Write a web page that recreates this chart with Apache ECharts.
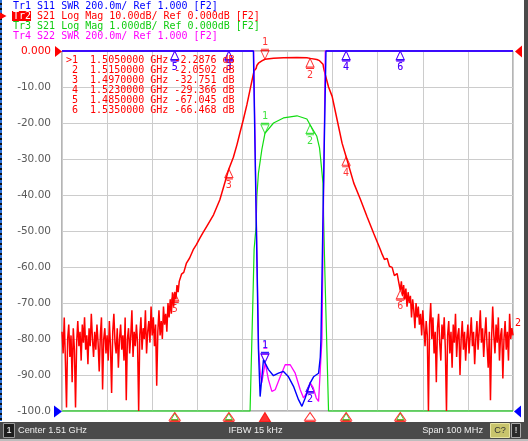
<!DOCTYPE html>
<html><head><meta charset="utf-8">
<script src="https://cdn.jsdelivr.net/npm/echarts@6/dist/echarts.min.js"></script>
<style>html,body{margin:0;padding:0;background:#fff;overflow:hidden}#c{width:528px;height:441px}</style>
</head><body><div id="c"></div>
<script>
// ---- stimulus (MHz): center 1.51 GHz, span 100 MHz ----
const FREQ_MIN = 1460, FREQ_MAX = 1560, FREQ_DIV = 10;

// ---- S21 (dB) ----
const NOISE_STEP = 0.25;
const s21NoiseLeftStart = 1460;
const s21NoiseLeft = [
 -78,-84,-74,-86,-99,-80,-76,-85,-79,-92,
 -77,-83,-99,-81,-75,-82,-78,-86,-76,-81,
 -74,-83,-79,-87,-77,-82,-73,-80,-85,-78,
 -83,-76,-81,-89,-79,-74,-94,-80,-77,-84,
 -79,-86,-75,-82,-95,-78,-73,-81,-84,-77,
 -88,-80,-76,-83,-79,-86,-74,-97,-80,-77,
 -84,-79,-72,-85,-78,-82,-76,-81,-100,-79,
 -74,-83,-77,-80,-72,-84,-78,-75,-81,-71,
 -79,-74,-82,-76,-93,-78,-72,-79,-75,-80,
 -71,-76,-73,-78,-70,-74,-69,-73,-67,-71,
 -67,-69,-65,-67,-64
];
const s21Skirts = [
 [1486.5,-62.0],[1487.0,-61.5],[1487.6,-58.9],[1488.3,-57.5],[1489.1,-55.2],[1489.8,-53.8],
 [1490.6,-51.9],[1491.3,-50.4],[1492.1,-48.7],[1493.6,-45.5],[1495.0,-41.3],[1496.2,-36.2],
 [1497.0,-32.75],[1498.0,-29.5],[1498.8,-26.0],[1499.5,-22.5],[1500.2,-19.1],[1501.0,-14.9],
 [1501.7,-10.75],[1502.44,-6.35],[1502.6,-5.5],[1503.04,-4.87],[1503.2,-4.04],[1503.56,-3.39],
 [1504.31,-2.74],[1505.0,-2.29],[1506.9,-2.0],[1509.1,-1.86],[1512.1,-1.80],[1514.3,-1.89],
 [1515.0,-2.05],[1516.5,-2.37],[1517.1,-2.69],[1517.3,-2.93],[1517.87,-3.67],[1518.0,-4.6],
 [1518.16,-5.5],[1518.38,-6.6],[1519.1,-10.0],[1519.9,-12.6],[1521.0,-19.1],[1522.1,-25.6],
 [1523.0,-29.37],[1524.7,-36.7],[1526.2,-41.3],[1527.6,-45.9],[1529.1,-50.6],[1530.6,-55.2],
 [1531.0,-56.5],[1531.5,-57.9],[1532.1,-57.6],[1532.6,-59.8],[1533.2,-60.1],[1533.7,-62.4],
 [1534.3,-61.8],[1534.7,-64.5]
];
const s21NoiseRightStart = 1535;
const s21NoiseRight = [
 -66.5,-64,-68,-65,-69,-66,-71,-67,-70,-68,
 -74,-69,-72,-77,-70,-74,-71,-76,-73,-79,
 -72,-77,-82,-75,-79,-100,-76,-70,-80,-74,
 -84,-78,-92,-77,-73,-81,-86,-76,-80,-74,
 -83,-100,-79,-75,-84,-78,-88,-76,-81,-73,
 -85,-79,-77,-90,-80,-75,-83,-78,-86,-80,
 -76,-84,-79,-74,-82,-78,-87,-80,-75,-83,
 -78,-72,-81,-77,-85,-79,-74,-82,-88,-78,
 -97,-80,-71,-79,-84,-76,-81,-74,-86,-79,
 -77,-91,-80,-75,-83,-78,-86,-73,-80,-77,
 -79
];

// ---- S11 / S22 SWR (values above 3 shown at the top edge) ----
const s11Swr = [
 [1460,3],[1502.44,3],[1502.97,2.2],[1503.56,1.34],[1503.93,1.08],[1504.67,1.285],
 [1505.78,1.23],[1506.89,1.196],[1508.0,1.21],[1509.11,1.22],[1510.22,1.19],[1511.33,1.137],
 [1512.44,1.063],[1513.2,1.026],[1513.93,1.072],[1515.04,1.156],[1515.78,1.19],[1516.89,1.21],
 [1517.27,1.30],[1517.42,1.40],[1517.93,2.17],[1518.53,3],[1560,3]
];
const s22Swr = [
 [1460,3],[1502.49,3],[1503.0,2.2],[1503.6,1.34],[1504.0,1.2],[1504.3,1.157],[1505.05,1.267],
 [1505.78,1.174],[1506.53,1.109],[1507.27,1.118],[1508.38,1.19],[1509.49,1.257],[1510.6,1.257],
 [1511.71,1.21],[1512.82,1.118],[1513.56,1.072],[1514.44,1.109],[1515.04,1.156],[1515.7,1.13],
 [1516.38,1.072],[1516.89,1.053],[1517.27,1.23],[1517.64,1.40],[1518.0,2.2],[1518.38,3],[1560,3]
];

// ---- markers ----
const markerFreqMHz = [1505, 1515, 1497, 1523, 1485, 1535];
const markerS21dB  = [-2.2876, -2.0502, -32.751, -29.366, -67.045, -66.468];
const markerS11Swr = [1.27, 1.156, 3, 3, 3, 3];
const markerS22Swr = [1.267, 1.156, 3, 3, 3, 3];

// ---- tick labels / annotation text ----
const yTickLabels = ['0.000','-10.00','-20.00','-30.00','-40.00','-50.00','-60.00','-70.00','-80.00','-90.00','-100.0'];
const headerLines = [
 ['Tr1', ' S11 SWR 200.0m/ Ref 1.000 [F2]', '#0000ff'],
 ['Tr2', ' S21 Log Mag 10.00dB/ Ref 0.000dB [F2]', '#ff0000'],
 ['Tr3', ' S21 Log Mag 1.000dB/ Ref 0.000dB [F2]', '#11cc11'],
 ['Tr4', ' S22 SWR 200.0m/ Ref 1.000 [F2]', '#ff00ff']
];
const statusTexts = ['Center 1.51 GHz', 'IFBW 15 kHz', 'Span 100 MHz'];

const RED='#ff0000', BLUE='#0000ff', GREEN='#11dd11', MAG='#ff00ff';
const MONO='"DejaVu Sans Mono", monospace';
const clamp=(v,a,b)=>Math.max(a,Math.min(b,v));

const s21 = []
  .concat(s21NoiseLeft.map((v,i)=>[s21NoiseLeftStart+i*NOISE_STEP, v]))
  .concat(s21Skirts)
  .concat(s21NoiseRight.map((v,i)=>[s21NoiseRightStart+i*NOISE_STEP, v]));

const TRI_UP='path://M5,0L0,9L10,9ZM0,10.5L10,10.5';
const TRI_DOWN='path://M0,0L10,0M0,1.5L10,1.5L5,10.5Z';
const TRI_FILL='path://M5,0L0,9L10,9Z';

function markerSeries(vals, yIdx, lo, hi, color){
  return {
    type:'scatter', yAxisIndex:yIdx, clip:false, silent:true,
    symbolSize:[8,10],
    itemStyle:{color:'rgba(0,0,0,0)', borderColor:color, borderWidth:1},
    data: markerFreqMHz.map((f,i)=>{
      const v=clamp(vals[i],lo,hi);
      const down=(i===0);
      const atBottom=(vals[i]<lo);
      return {
        value:[f,v],
        symbol: down?TRI_DOWN:TRI_UP,
        symbolSize: atBottom?[7,7]:[8,10],
        symbolOffset: down?[0,'-50%']:(atBottom?[0,6]:[0,'50%']),
        label:{show:!atBottom, position: down?'top':'bottom', distance:1,
          formatter:String(i+1), color:color, fontFamily:MONO, fontSize:10}
      };
    })
  };
}

const graphic=[];
// left frame dashes, right frame bar
graphic.push({type:'line',shape:{x1:1,y1:0,x2:1,y2:421},style:{stroke:'#111',lineWidth:2}});
graphic.push({type:'line',shape:{x1:1,y1:0,x2:1,y2:421},style:{stroke:'#2a6fd6',lineWidth:2,lineDash:[3,2]}});
graphic.push({type:'rect',shape:{x:524,y:0,width:4,height:441},style:{fill:'#4a4a4a'}});
// header
headerLines.forEach((h,i)=>{
  const y=6+i*10;
  if(i===1){
    graphic.push({type:'rect',z:50,shape:{x:12,y:y-5,width:19,height:10},style:{fill:RED}});
    graphic.push({type:'polygon',z:50,shape:{points:[[0,y-3.5],[6.5,y],[0,y+3.5]]},style:{fill:RED}});
  }
  graphic.push({type:'text',z:51,x:13,y:y,style:{text:h[0],fill:(i===1?'#fff':h[2]),font:'10px '+MONO,textVerticalAlign:'middle'}});
  graphic.push({type:'text',z:51,x:13+18.06,y:y,style:{text:h[1],fill:h[2],font:'10px '+MONO,textVerticalAlign:'middle'}});
});
// marker table
markerFreqMHz.forEach((f,i)=>{
  const t=(i===0?'>':' ')+(i+1)+'  '+(f/1000).toFixed(7)+' GHz '+markerS21dB[i].toPrecision(5)+' dB';
  graphic.push({type:'text',z:51,x:66,y:60+i*10,style:{text:t,fill:RED,font:'10px '+MONO,textVerticalAlign:'middle'}});
});
// reference position arrows
graphic.push({type:'polygon',z:60,shape:{points:[[55,46],[62,51.5],[55,57]]},style:{fill:RED}});
graphic.push({type:'polygon',z:60,shape:{points:[[54,405.5],[62,411.5],[54,417.5]]},style:{fill:BLUE}});
graphic.push({type:'polygon',z:60,shape:{points:[[522,45.5],[515,51.5],[522,57.5]]},style:{fill:RED}});
graphic.push({type:'polygon',z:60,shape:{points:[[521,405.5],[514,411.5],[521,417.5]]},style:{fill:BLUE}});
graphic.push({type:'text',z:60,x:515,y:323,style:{text:'2',fill:RED,font:'10px '+MONO,textVerticalAlign:'middle'}});
// status bar
const SB='9.2px "Liberation Sans", Arial, sans-serif';
graphic.push({type:'rect',z:40,shape:{x:0,y:422,width:524,height:17},style:{fill:'#4a4a4a'}});
graphic.push({type:'rect',z:40,shape:{x:0,y:439,width:528,height:2},style:{fill:'#bdbdbd'}});
graphic.push({type:'rect',z:41,shape:{x:3.5,y:423.5,width:11,height:14},style:{fill:'#1e1e1e',stroke:'#9a9a9a',lineWidth:1}});
graphic.push({type:'text',z:42,x:9,y:430.5,style:{text:'1',fill:'#fff',font:SB,textAlign:'center',textVerticalAlign:'middle'}});
graphic.push({type:'text',z:42,x:18,y:430.5,style:{text:statusTexts[0],fill:'#eeeeee',font:SB,textVerticalAlign:'middle'}});
graphic.push({type:'text',z:42,x:255.5,y:430.5,style:{text:statusTexts[1],fill:'#eeeeee',font:SB,textAlign:'center',textVerticalAlign:'middle'}});
graphic.push({type:'text',z:42,x:483,y:430.5,style:{text:statusTexts[2],fill:'#eeeeee',font:SB,textAlign:'right',textVerticalAlign:'middle'}});
graphic.push({type:'rect',z:41,shape:{x:490.5,y:423.5,width:19,height:14},style:{fill:'#c8c46c',stroke:'#e8e4a0',lineWidth:1}});
graphic.push({type:'text',z:42,x:500,y:430.5,style:{text:'C?',fill:'#333',font:SB,textAlign:'center',textVerticalAlign:'middle'}});
graphic.push({type:'rect',z:41,shape:{x:511.5,y:423.5,width:9,height:14},style:{fill:'#2a2a2a',stroke:'#aaaaaa',lineWidth:1}});
graphic.push({type:'text',z:42,x:516,y:430.5,style:{text:'!',fill:'#fff',font:SB,textAlign:'center',textVerticalAlign:'middle'}});

const chart=echarts.init(document.getElementById('c'),null,{renderer:'canvas'});
chart.setOption({
  animation:false,
  backgroundColor:'#ffffff',
  grid:{left:62,top:51,width:451,height:360,show:true,borderColor:'#6a6a6a',borderWidth:1,backgroundColor:'#fff'},
  xAxis:{type:'value',min:FREQ_MIN,max:FREQ_MAX,interval:FREQ_DIV,
    axisLabel:{show:false},axisTick:{show:false},axisLine:{show:false},
    splitLine:{show:true,lineStyle:{color:'#cccccc',width:1}}},
  yAxis:[
    {type:'value',min:-100,max:0,interval:10,axisLine:{show:false},axisTick:{show:false},
     splitLine:{show:true,lineStyle:{color:'#cccccc',width:1}},
     axisLabel:{color:'#5a5a5a',fontFamily:'DejaVu Sans',fontSize:10.5,margin:11,
       formatter:v=>{const k=Math.round(-v/10);const t=yTickLabels[k];return k===0?'{r|'+t+'}':t;},
       rich:{r:{color:RED,fontFamily:'DejaVu Sans',fontSize:10.5}}}},
    {type:'value',min:-10,max:0,show:false,splitLine:{show:false}},
    {type:'value',min:1,max:3,show:false,splitLine:{show:false}}
  ],
  graphic:graphic,
  series:[
    {type:'line',yAxisIndex:1,clip:false,silent:true,showSymbol:false,symbol:'none',
     lineStyle:{color:GREEN,width:1.2},data:s21.map(p=>[p[0],clamp(p[1],-10,0)])},
    {type:'line',yAxisIndex:0,clip:false,silent:true,showSymbol:false,symbol:'none',
     lineStyle:{color:RED,width:1.5},data:s21.map(p=>[p[0],clamp(p[1],-100,0)])},
    {type:'line',yAxisIndex:2,clip:false,silent:true,showSymbol:false,symbol:'none',
     lineStyle:{color:MAG,width:1.3},data:s22Swr.map(p=>[p[0],clamp(p[1],1,3)])},
    {type:'line',yAxisIndex:2,clip:false,silent:true,showSymbol:false,symbol:'none',
     lineStyle:{color:BLUE,width:1.4},data:s11Swr.map(p=>[p[0],clamp(p[1],1,3)])},
    markerSeries(markerS21dB,1,-10,0,GREEN),
    markerSeries(markerS21dB,0,-100,0,RED),
    markerSeries(markerS22Swr,2,1,3,MAG),
    markerSeries(markerS11Swr,2,1,3,BLUE),
    {type:'scatter',yAxisIndex:0,clip:false,silent:true,
     itemStyle:{color:'rgba(0,0,0,0)',borderColor:RED,borderWidth:1},
     data:markerFreqMHz.map((f,i)=>({value:[f,-100],symbol:(i===0?TRI_FILL:TRI_UP),symbolSize:[11,9],symbolOffset:[0,6],
       itemStyle:(i===0?{color:RED}:undefined)}))}
  ]
});
</script></body></html>
